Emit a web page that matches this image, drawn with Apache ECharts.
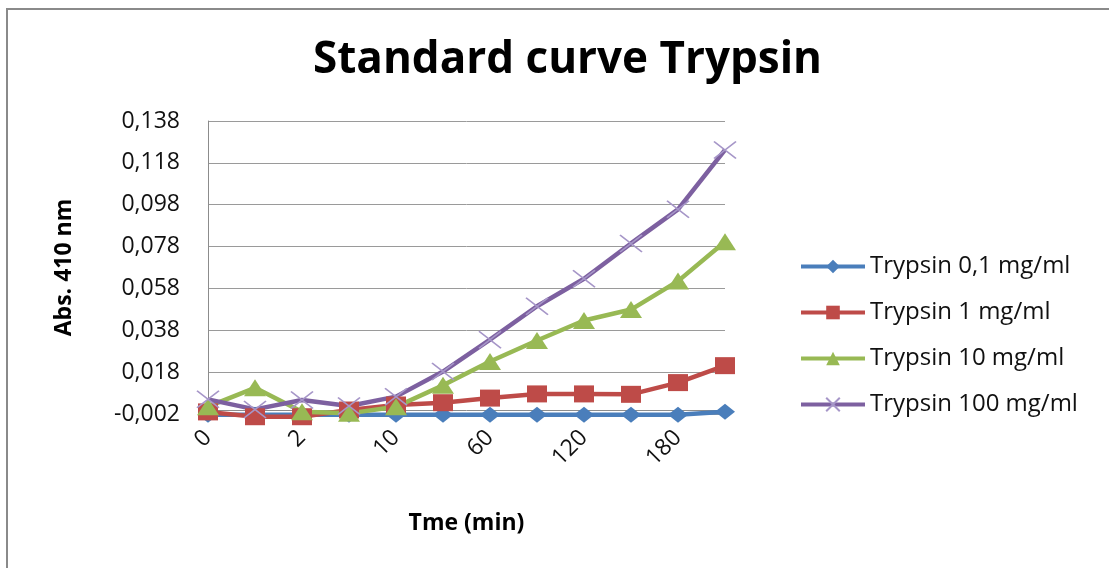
<!DOCTYPE html>
<html>
<head>
<meta charset="utf-8">
<script src="https://cdn.jsdelivr.net/npm/echarts@6/dist/echarts.min.js"></script>
<style>
  html, body { margin: 0; padding: 0; background: #ffffff; }
  #chart { width: 1109px; height: 568px; }
</style>
</head>
<body>
<div id="chart"></div>
<script>
// Sampling times (min); every other one is labelled on the axis
const times = ['0', '1', '2', '5', '10', '30', '60', '90', '120', '150', '180', '210'];

// Absorbance at 410 nm for each trypsin concentration
const trypsin01 = [-0.0024, -0.0024, -0.0024, -0.0024, -0.0024, -0.0024, -0.0024, -0.0024, -0.0024, -0.0024, -0.0024, -0.0009];
const trypsin1 = [-0.001, -0.0033, -0.0033, -0.0001, 0.0023, 0.0034, 0.0056, 0.0076, 0.0076, 0.0074, 0.013, 0.0211];
const trypsin10 = [0.0015, 0.0105, -0.0009, -0.0017, 0.0015, 0.0117, 0.0231, 0.0331, 0.0427, 0.0479, 0.0615, 0.0803];
const trypsin100 = [0.005, 0.0002, 0.0047, 0.0018, 0.0063, 0.0183, 0.0335, 0.0495, 0.0626, 0.0795, 0.0958, 0.1242];

// Value-axis ticks
const yMin = -0.002;
const yMax = 0.138;
const yStep = 0.02;

const seriesNames = ['Trypsin 0,1 mg/ml', 'Trypsin 1 mg/ml', 'Trypsin 10 mg/ml', 'Trypsin 100 mg/ml'];

const FONT = '"Open Sans", "DejaVu Sans", sans-serif';
const crossPath = 'path://M0,0 L10,10 M10,0 L0,10';

const chart = echarts.init(document.getElementById('chart'), null, { renderer: 'canvas' });

function lineSeries(name, data, color, symbol, size, extraItem) {
  return {
    name: name,
    type: 'line',
    data: data,
    symbol: symbol,
    symbolSize: size,
    showSymbol: true,
    showAllSymbol: true,
    clip: false,
    lineStyle: { color: color, width: 4.5 },
    itemStyle: Object.assign({ color: color }, extraItem || {}),
    emphasis: { disabled: true },
    animation: false
  };
}

chart.setOption({
  backgroundColor: '#ffffff',
  animation: false,
  title: {
    text: 'Standard curve Trypsin',
    left: 308,
    top: 33,
    textStyle: { fontFamily: FONT, fontSize: 44, fontWeight: 'bold', color: '#000000' }
  },
  graphic: [{
    type: 'rect',
    shape: { x: 7, y: 9, width: 1200, height: 700 },
    style: { fill: 'none', stroke: '#8a8a8a', lineWidth: 2 },
    silent: true
  }],
  legend: {
    orient: 'vertical',
    left: 794,
    top: 249,
    itemWidth: 64,
    itemHeight: 17,
    itemGap: 21,
    data: seriesNames,
    lineStyle: { width: 4 },
    textStyle: { fontFamily: FONT, fontSize: 24, color: '#111111', lineHeight: 25 }
  },
  grid: { left: 208, right: 384, top: 121, bottom: 154 },
  xAxis: {
    type: 'category',
    data: times,
    boundaryGap: false,
    name: 'Tme (min)',
    nameLocation: 'middle',
    nameGap: 98,
    nameTextStyle: { fontFamily: FONT, fontSize: 23, fontWeight: 'bold', color: '#000000' },
    axisLine: { show: true, lineStyle: { color: '#8c8c8c', width: 1 } },
    axisTick: { show: false },
    axisLabel: {
      interval: 1,
      rotate: 45,
      margin: 20,
      fontFamily: FONT,
      fontSize: 23,
      color: '#111111'
    },
    splitLine: { show: false }
  },
  yAxis: {
    type: 'value',
    min: yMin,
    max: yMax,
    interval: yStep,
    name: 'Abs. 410 nm',
    nameLocation: 'middle',
    nameRotate: 90,
    nameGap: 132,
    nameTextStyle: { fontFamily: FONT, fontSize: 23, fontWeight: 'bold', color: '#000000' },
    axisLine: { show: true, lineStyle: { color: '#8c8c8c', width: 1 } },
    axisTick: { show: false },
    axisLabel: {
      margin: 28,
      fontFamily: FONT,
      fontSize: 23,
      color: '#111111',
      formatter: function (v) { return v.toFixed(3).replace('.', ','); }
    },
    splitLine: { show: true, lineStyle: { color: '#9a9a9a', width: 1 } }
  },
  series: [
    lineSeries(seriesNames[0], trypsin01, '#4a7ebb', 'diamond', [20, 16]),
    lineSeries(seriesNames[1], trypsin1, '#be4b48', 'rect', [20, 17]),
    lineSeries(seriesNames[2], trypsin10, '#98b954', 'triangle', [22, 17]),
    lineSeries(seriesNames[3], trypsin100, '#7d60a0', crossPath, [22, 17],
      { color: 'rgba(0,0,0,0)', borderColor: '#a696c8', borderWidth: 1.6 })
  ]
});
</script>
</body>
</html>
